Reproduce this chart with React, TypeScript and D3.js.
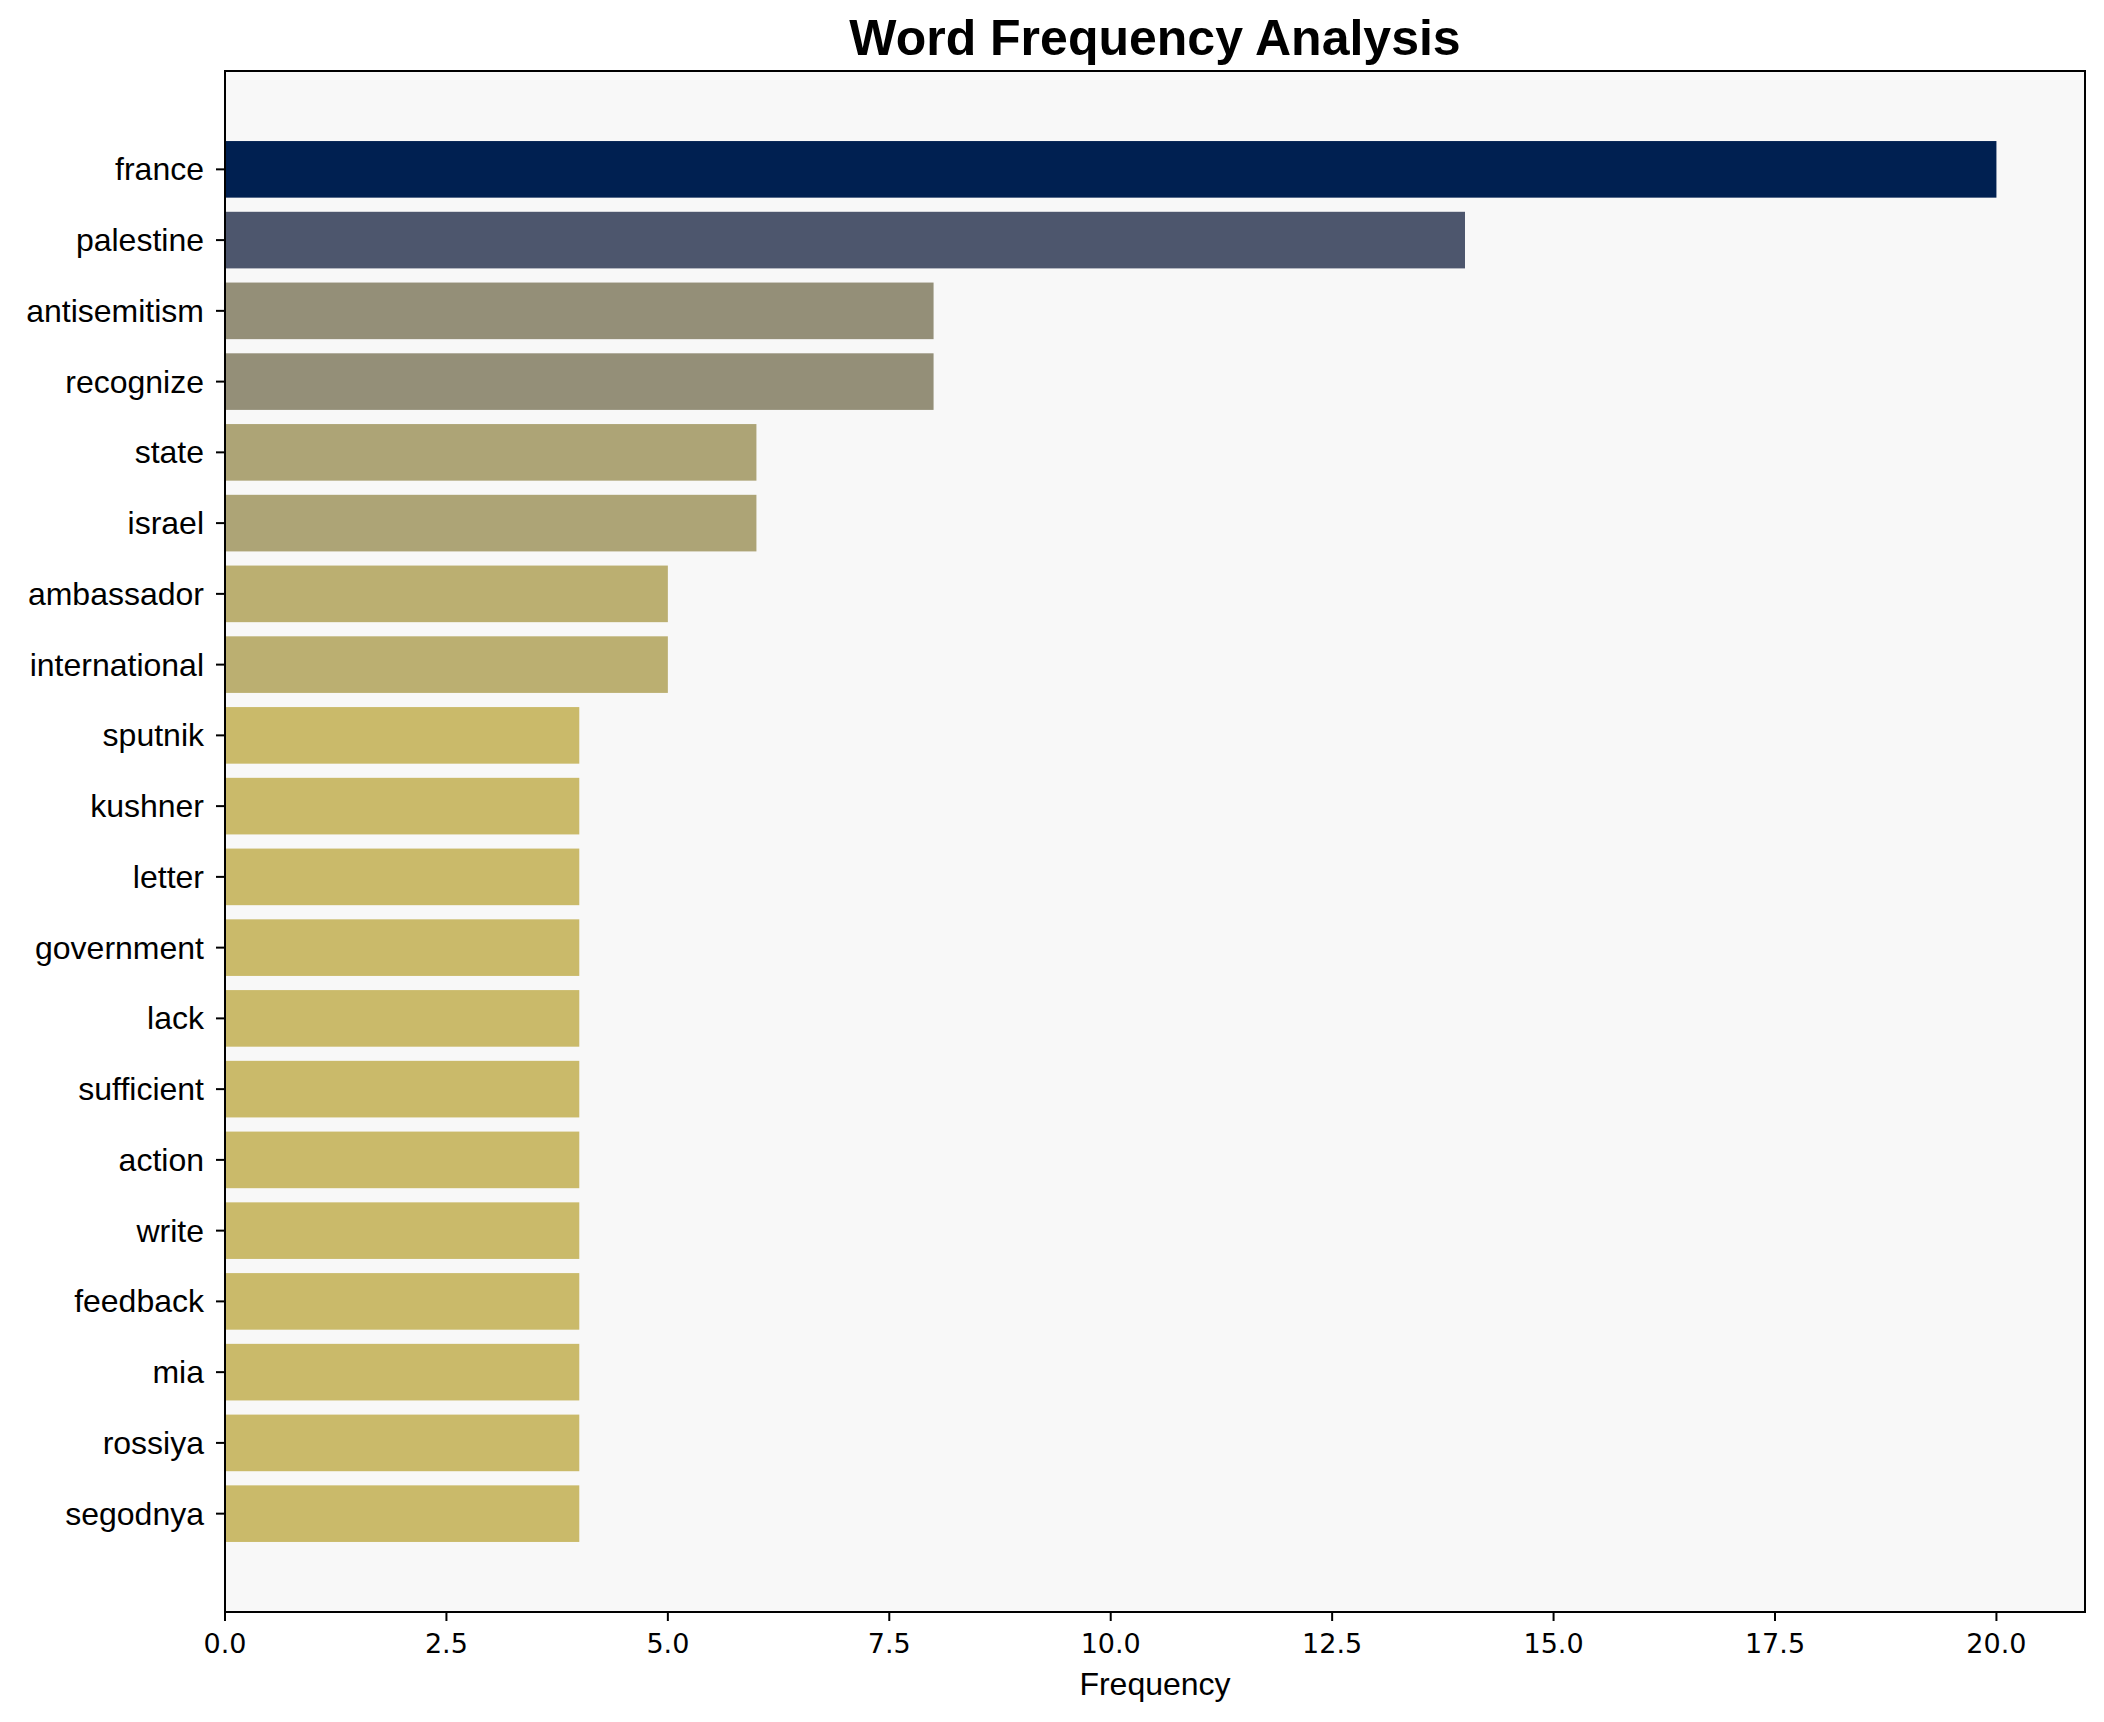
import { useEffect } from "react";
import * as d3 from "d3";

const words = [
  "france", "palestine", "antisemitism", "recognize", "state", "israel",
  "ambassador", "international", "sputnik", "kushner", "letter", "government",
  "lack", "sufficient", "action", "write", "feedback", "mia", "rossiya", "segodnya",
];
const counts = [20, 14, 8, 8, 6, 6, 5, 5, 4, 4, 4, 4, 4, 4, 4, 4, 4, 4, 4, 4];
const xTicks = [0, 2.5, 5, 7.5, 10, 12.5, 15, 17.5, 20];

const W = 2104;
const H = 1722;
const M = { left: 225, right: 2085, top: 71, bottom: 1612 };
const SANS = "'Liberation Sans', Arial, Helvetica, sans-serif";
const DEJAVU = "'DejaVu Sans', sans-serif";

export default function App() {
  useEffect(() => {
    document.body.style.margin = "0";
  }, []);

  const maxCount = d3.max(counts) ?? 1;
  const x = d3.scaleLinear().domain([0, maxCount * 1.05]).range([M.left, M.right]);
  // matplotlib-style limits: bars of height 0.8 plus 5% margin, first row on top
  const n = words.length;
  const lo = -0.4 - 0.05 * (n - 0.2);
  const hi = n - 1 + 0.4 + 0.05 * (n - 0.2);
  const y = d3.scaleLinear().domain([lo, hi]).range([M.top, M.bottom]);
  const barH = y(0.8) - y(0);
  const color = (v: number) => d3.interpolateCividis(1 - v / maxCount);

  return (
    <svg width={W} height={H} style={{ display: "block" }}>
      <rect width={W} height={H} fill="#ffffff" />
      <rect
        x={M.left}
        y={M.top}
        width={M.right - M.left}
        height={M.bottom - M.top}
        fill="#f8f8f8"
      />
      {words.map((w, i) => (
        <rect
          key={w}
          x={x(0)}
          y={y(i) - barH / 2}
          width={x(counts[i]) - x(0)}
          height={barH}
          fill={color(counts[i])}
        />
      ))}
      <rect
        x={M.left}
        y={M.top}
        width={M.right - M.left}
        height={M.bottom - M.top}
        fill="none"
        stroke="#000"
        strokeWidth={2}
      />
      {words.map((w, i) => (
        <g key={w}>
          <line x1={M.left - 9} x2={M.left} y1={y(i)} y2={y(i)} stroke="#000" strokeWidth={2} />
          <text
            x={M.left - 21}
            y={y(i)}
            textAnchor="end"
            dominantBaseline="central"
            fontFamily={SANS}
            fontSize={32}
            fill="#000"
          >
            {w}
          </text>
        </g>
      ))}
      {xTicks.map((t) => (
        <g key={t}>
          <line x1={x(t)} x2={x(t)} y1={M.bottom} y2={M.bottom + 9} stroke="#000" strokeWidth={2} />
          <text
            x={x(t)}
            y={M.bottom + 41}
            textAnchor="middle"
            fontFamily={DEJAVU}
            fontSize={27}
            fill="#000"
          >
            {t.toFixed(1)}
          </text>
        </g>
      ))}
      <text
        x={(M.left + M.right) / 2}
        y={1695}
        textAnchor="middle"
        fontFamily={SANS}
        fontSize={32}
        fill="#000"
      >
        Frequency
      </text>
      <text
        x={(M.left + M.right) / 2}
        y={55}
        textAnchor="middle"
        fontFamily={SANS}
        fontWeight="bold"
        fontSize={50}
        fill="#000"
      >
        Word Frequency Analysis
      </text>
    </svg>
  );
}
